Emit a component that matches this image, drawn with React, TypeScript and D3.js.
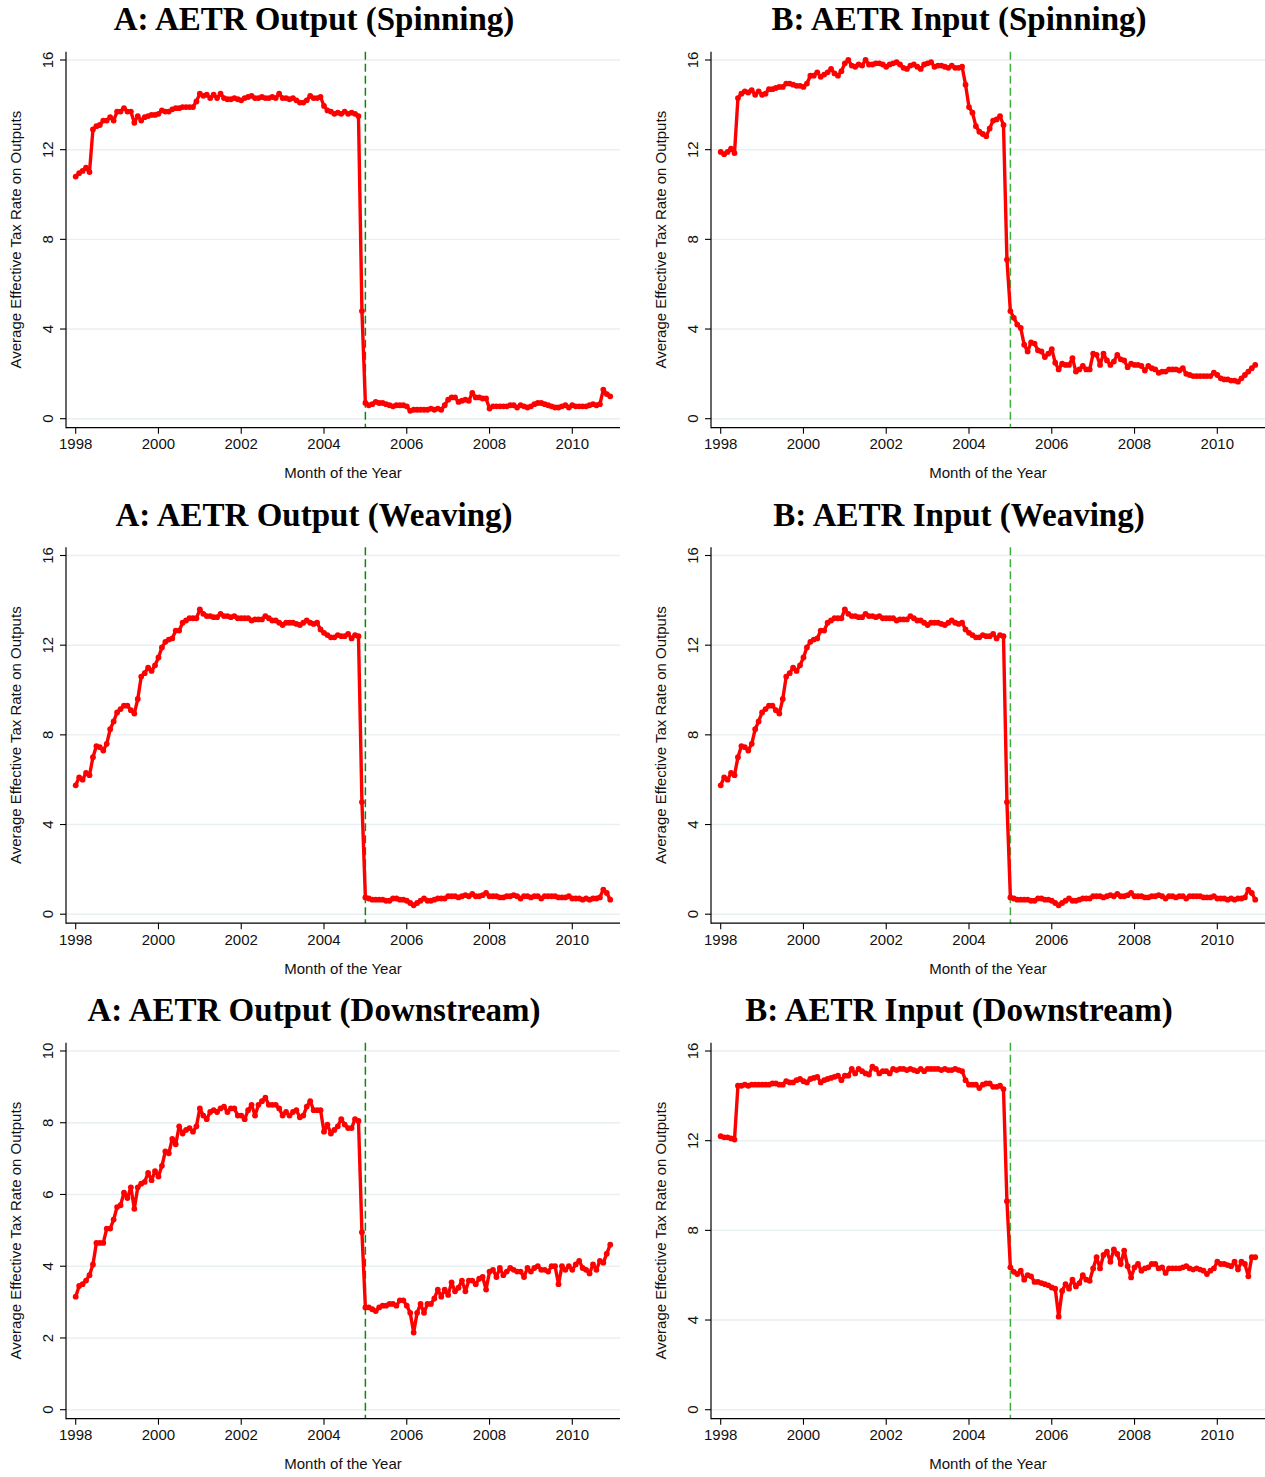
import React from 'react';
import * as d3 from 'd3';

// ---------- data (monthly, Jan 1998 – Dec 2010) ----------
const startYear = 1998;

const spinningOutput: number[] = [
  10.8, 10.95, 11.05, 11.2, 11.0, 12.9, 13.05, 13.1, 13.3, 13.3, 13.45, 13.3,
  13.7, 13.7, 13.85, 13.7, 13.7, 13.2, 13.5, 13.3, 13.45, 13.5, 13.55, 13.55,
  13.6, 13.75, 13.7, 13.7, 13.8, 13.85, 13.85, 13.9, 13.9, 13.9, 13.9, 14.15,
  14.5, 14.4, 14.45, 14.3, 14.45, 14.3, 14.5, 14.3, 14.25, 14.25, 14.3, 14.25,
  14.2, 14.3, 14.35, 14.4, 14.3, 14.3, 14.35, 14.3, 14.3, 14.35, 14.3, 14.5,
  14.3, 14.3, 14.25, 14.3, 14.2, 14.1, 14.1, 14.2, 14.4, 14.3, 14.3, 14.35,
  13.95, 13.75, 13.7, 13.6, 13.65, 13.6, 13.7, 13.6, 13.65, 13.6, 13.5, 4.8,
  0.7, 0.6, 0.65, 0.75, 0.7, 0.7, 0.65, 0.6, 0.55, 0.6, 0.6, 0.6,
  0.55, 0.35, 0.4, 0.4, 0.4, 0.4, 0.4, 0.45, 0.4, 0.45, 0.4, 0.6,
  0.85, 0.95, 0.95, 0.75, 0.8, 0.85, 0.8, 1.15, 0.95, 0.95, 0.9, 0.9,
  0.45, 0.55, 0.55, 0.55, 0.55, 0.55, 0.6, 0.6, 0.5, 0.6, 0.55, 0.5,
  0.55, 0.65, 0.7, 0.7, 0.65, 0.6, 0.55, 0.5, 0.5, 0.55, 0.6, 0.5,
  0.6, 0.55, 0.55, 0.55, 0.55, 0.6, 0.65, 0.6, 0.65, 1.3, 1.1, 1.0,
];

const spinningInput: number[] = [
  11.9, 11.8, 11.9, 12.05, 11.85, 14.3, 14.5, 14.6, 14.55, 14.65, 14.45, 14.6,
  14.45, 14.5, 14.7, 14.7, 14.75, 14.8, 14.8, 14.95, 14.95, 14.9, 14.85, 14.85,
  14.8, 14.95, 15.3, 15.3, 15.45, 15.25, 15.35, 15.45, 15.6, 15.4, 15.3, 15.5,
  15.85, 16.0, 15.75, 15.7, 15.8, 15.75, 16.0, 15.8, 15.8, 15.85, 15.85, 15.8,
  15.7, 15.8, 15.85, 15.9, 15.8, 15.65, 15.6, 15.75, 15.8, 15.7, 15.6, 15.8,
  15.85, 15.9, 15.7, 15.75, 15.75, 15.7, 15.65, 15.75, 15.65, 15.65, 15.7, 14.9,
  13.9, 13.65, 13.05, 12.8, 12.7, 12.6, 12.95, 13.3, 13.35, 13.5, 13.1, 7.1,
  4.8, 4.5, 4.2, 4.05, 3.3, 3.0, 3.4, 3.35, 3.05, 3.0, 2.75, 2.9,
  3.1, 2.5, 2.2, 2.45, 2.4, 2.4, 2.7, 2.1, 2.2, 2.35, 2.2, 2.2,
  2.9, 2.85, 2.4, 2.9, 2.6, 2.4, 2.55, 2.85, 2.65, 2.6, 2.3, 2.45,
  2.4, 2.4, 2.35, 2.15, 2.35, 2.25, 2.2, 2.05, 2.1, 2.1, 2.2, 2.2,
  2.2, 2.15, 2.25, 2.0, 1.95, 1.9, 1.9, 1.9, 1.9, 1.9, 1.9, 2.05,
  1.95, 1.8, 1.75, 1.75, 1.7, 1.7, 1.65, 1.8, 1.95, 2.1, 2.25, 2.4,
];

const weavingOutput: number[] = [
  5.75, 6.1, 6.0, 6.3, 6.2, 7.0, 7.5, 7.45, 7.3, 7.6, 8.25, 8.6,
  9.0, 9.15, 9.3, 9.3, 9.1, 8.95, 9.6, 10.6, 10.75, 11.0, 10.85, 11.1,
  11.45, 11.9, 12.15, 12.25, 12.3, 12.65, 12.65, 13.0, 13.1, 13.2, 13.2, 13.2,
  13.6, 13.4, 13.3, 13.3, 13.25, 13.25, 13.4, 13.3, 13.3, 13.25, 13.3, 13.2,
  13.2, 13.2, 13.2, 13.1, 13.15, 13.15, 13.15, 13.3, 13.2, 13.1, 13.1, 13.0,
  12.9, 13.0, 13.0, 13.0, 12.95, 12.9, 13.0, 13.1, 13.0, 12.95, 13.0, 12.7,
  12.55, 12.45, 12.35, 12.35, 12.45, 12.4, 12.4, 12.5, 12.3, 12.45, 12.4, 5.0,
  0.75, 0.7, 0.65, 0.65, 0.65, 0.65, 0.6, 0.6, 0.7, 0.7, 0.65, 0.65,
  0.6, 0.5, 0.4, 0.5, 0.6, 0.7, 0.6, 0.6, 0.65, 0.7, 0.7, 0.7,
  0.8, 0.8, 0.8, 0.75, 0.8, 0.85, 0.8, 0.9, 0.8, 0.8, 0.85, 0.95,
  0.8, 0.8, 0.8, 0.75, 0.75, 0.8, 0.8, 0.85, 0.8, 0.7, 0.8, 0.8,
  0.75, 0.8, 0.8, 0.7, 0.8, 0.8, 0.8, 0.8, 0.75, 0.75, 0.75, 0.8,
  0.7, 0.7, 0.7, 0.65, 0.7, 0.65, 0.7, 0.7, 0.75, 1.1, 0.95, 0.65,
];

const weavingInput: number[] = [
  5.75, 6.1, 6.0, 6.3, 6.2, 7.0, 7.5, 7.45, 7.3, 7.6, 8.25, 8.6,
  9.0, 9.15, 9.3, 9.3, 9.1, 8.95, 9.6, 10.6, 10.75, 11.0, 10.85, 11.1,
  11.45, 11.9, 12.15, 12.25, 12.3, 12.65, 12.65, 13.0, 13.1, 13.2, 13.2, 13.2,
  13.6, 13.4, 13.3, 13.3, 13.25, 13.25, 13.4, 13.3, 13.3, 13.25, 13.3, 13.2,
  13.2, 13.2, 13.2, 13.1, 13.15, 13.15, 13.15, 13.3, 13.2, 13.1, 13.1, 13.0,
  12.9, 13.0, 13.0, 13.0, 12.95, 12.9, 13.0, 13.1, 13.0, 12.95, 13.0, 12.7,
  12.55, 12.45, 12.35, 12.35, 12.45, 12.4, 12.4, 12.5, 12.3, 12.45, 12.4, 5.0,
  0.75, 0.7, 0.65, 0.65, 0.65, 0.65, 0.6, 0.6, 0.7, 0.7, 0.65, 0.65,
  0.6, 0.5, 0.4, 0.5, 0.6, 0.7, 0.6, 0.6, 0.65, 0.7, 0.7, 0.7,
  0.8, 0.8, 0.8, 0.75, 0.8, 0.85, 0.8, 0.9, 0.8, 0.8, 0.85, 0.95,
  0.8, 0.8, 0.8, 0.75, 0.75, 0.8, 0.8, 0.85, 0.8, 0.7, 0.8, 0.8,
  0.75, 0.8, 0.8, 0.7, 0.8, 0.8, 0.8, 0.8, 0.75, 0.75, 0.75, 0.8,
  0.7, 0.7, 0.7, 0.65, 0.7, 0.65, 0.7, 0.7, 0.75, 1.1, 0.95, 0.65,
];

const downstreamOutput: number[] = [
  3.15, 3.45, 3.5, 3.6, 3.75, 4.05, 4.65, 4.65, 4.65, 5.05, 5.05, 5.3,
  5.65, 5.7, 6.05, 5.9, 6.2, 5.6, 6.2, 6.3, 6.35, 6.6, 6.4, 6.65,
  6.5, 6.8, 7.2, 7.15, 7.55, 7.4, 7.9, 7.7, 7.8, 7.85, 7.75, 7.9,
  8.4, 8.2, 8.1, 8.3, 8.35, 8.3, 8.4, 8.45, 8.3, 8.4, 8.4, 8.2,
  8.2, 8.1, 8.35, 8.5, 8.2, 8.5, 8.6, 8.7, 8.5, 8.5, 8.5, 8.4,
  8.2, 8.3, 8.2, 8.3, 8.35, 8.15, 8.2, 8.45, 8.6, 8.35, 8.35, 8.35,
  7.75, 7.95, 7.7, 7.8, 7.9, 8.1, 7.95, 7.85, 7.85, 8.1, 8.05, 4.95,
  2.85, 2.85, 2.8, 2.75, 2.85, 2.9, 2.9, 2.95, 2.95, 2.9, 3.05, 3.05,
  2.9, 2.7, 2.15, 2.7, 2.95, 2.7, 2.95, 2.95, 3.1, 3.35, 3.15, 3.35,
  3.2, 3.55, 3.3, 3.4, 3.6, 3.3, 3.6, 3.6, 3.5, 3.65, 3.7, 3.35,
  3.85, 3.9, 3.7, 3.95, 3.75, 3.85, 3.95, 3.9, 3.85, 3.85, 3.7, 3.95,
  3.85, 3.95, 4.0, 3.9, 3.9, 3.85, 4.0, 4.0, 3.5, 4.0, 3.9, 4.0,
  3.9, 4.05, 4.15, 3.95, 3.9, 3.8, 4.05, 3.9, 4.15, 4.1, 4.35, 4.6,
];

const downstreamInput: number[] = [
  12.2, 12.15, 12.15, 12.1, 12.05, 14.45, 14.45, 14.5, 14.45, 14.5, 14.5, 14.5,
  14.5, 14.5, 14.5, 14.55, 14.55, 14.5, 14.5, 14.65, 14.6, 14.6, 14.7, 14.75,
  14.65, 14.6, 14.75, 14.8, 14.85, 14.6, 14.7, 14.75, 14.8, 14.85, 14.9, 14.7,
  14.9, 14.9, 15.2, 15.0, 15.2, 15.1, 15.0, 14.95, 15.3, 15.2, 15.0, 15.1,
  15.1, 15.0, 15.2, 15.15, 15.2, 15.2, 15.15, 15.2, 15.15, 15.1, 15.2, 15.1,
  15.2, 15.2, 15.2, 15.2, 15.15, 15.2, 15.15, 15.15, 15.2, 15.15, 15.1, 14.7,
  14.5, 14.5, 14.5, 14.35, 14.5, 14.55, 14.55, 14.4, 14.4, 14.45, 14.3, 9.3,
  6.35, 6.15, 6.05, 6.2, 5.8, 6.0, 5.95, 5.7, 5.7, 5.65, 5.6, 5.55,
  5.45, 5.4, 4.15, 5.3, 5.6, 5.4, 5.8, 5.5, 5.65, 6.0, 5.8, 5.75,
  6.3, 6.8, 6.3, 6.9, 7.05, 6.6, 7.15, 6.95, 6.5, 7.1, 6.4, 5.9,
  6.35, 6.5, 6.2, 6.3, 6.35, 6.5, 6.5, 6.3, 6.35, 6.1, 6.3, 6.3,
  6.3, 6.3, 6.35, 6.4, 6.3, 6.25, 6.3, 6.25, 6.2, 6.05, 6.2, 6.3,
  6.6, 6.5, 6.5, 6.45, 6.4, 6.6, 6.25, 6.6, 6.5, 5.95, 6.8, 6.8,
];

const xTickYears: number[] = [1998, 2000, 2002, 2004, 2006, 2008, 2010];
const yTicks16: number[] = [0, 4, 8, 12, 16];
const yTicks10: number[] = [0, 2, 4, 6, 8, 10];
const reformDate = 2005;

const titles: string[] = [
  'A: AETR Output (Spinning)',
  'B: AETR Input (Spinning)',
  'A: AETR Output (Weaving)',
  'B: AETR Input (Weaving)',
  'A: AETR Output (Downstream)',
  'B: AETR Input (Downstream)',
];
const yAxisTitle = 'Average Effective Tax Rate on Outputs';
const xAxisTitle = 'Month of the Year';

const panels = [
  { title: titles[0], data: spinningOutput, yMax: 16, ticks: yTicks16, col: 0, row: 0 },
  { title: titles[1], data: spinningInput, yMax: 16, ticks: yTicks16, col: 1, row: 0 },
  { title: titles[2], data: weavingOutput, yMax: 16, ticks: yTicks16, col: 0, row: 1 },
  { title: titles[3], data: weavingInput, yMax: 16, ticks: yTicks16, col: 1, row: 1 },
  { title: titles[4], data: downstreamOutput, yMax: 10, ticks: yTicks10, col: 0, row: 2 },
  { title: titles[5], data: downstreamInput, yMax: 16, ticks: yTicks16, col: 1, row: 2 },
];

// ---------- layout ----------
const W = 1265;
const H = 1477;
const COL_DX = 645;
const ROW_DY = 495.5;
const SANS = '"Liberation Sans", Arial, Helvetica, sans-serif';
const SERIF = '"Liberation Serif", "Times New Roman", serif';

function Panel({ p }: { p: (typeof panels)[number] }) {
  const ox = p.col * COL_DX;
  const oy = p.row * ROW_DY;
  const x = d3.scaleLinear().domain([1998, 2010]).range([ox + 75.7, ox + 572.3]);
  const y = d3.scaleLinear().domain([0, p.yMax]).range([oy + 418.7, oy + 60]);
  const axL = ox + 66;
  const axR = ox + 620;
  const axT = oy + 51.7;
  const axB = oy + 427.7;
  const line = d3
    .line<number>()
    .x((_, i) => x(startYear + i / 12))
    .y((d) => y(d));
  const dashColor = p.col === 0 ? '#0a8a0a' : '#3fae3f';
  return (
    <g>
      <text
        x={ox + 314}
        y={oy + 30}
        textAnchor="middle"
        fontFamily={SERIF}
        fontWeight="bold"
        fontSize={33}
        fill="#000"
      >
        {p.title}
      </text>
      {p.ticks.map((t) => (
        <line key={'g' + t} x1={axL} x2={axR} y1={y(t)} y2={y(t)} stroke="#e8f0f2" strokeWidth={1.4} />
      ))}
      <line x1={x(reformDate)} x2={x(reformDate)} y1={axT} y2={axB} stroke={dashColor} strokeWidth={1.5} strokeDasharray="8,4" />
      <path d={line(p.data) || ''} fill="none" stroke="#ff0000" strokeWidth={3.4} strokeLinejoin="round" />
      {p.data.map((d, i) => (
        <circle key={i} cx={x(startYear + i / 12)} cy={y(d)} r={2.9} fill="#ff0000" />
      ))}
      <line x1={axL} x2={axL} y1={axT} y2={axB + 0.5} stroke="#000" strokeWidth={1.2} />
      <line x1={axL} x2={axR} y1={axB} y2={axB} stroke="#000" strokeWidth={1.2} />
      {p.ticks.map((t) => (
        <g key={'yt' + t}>
          <line x1={axL - 6} x2={axL} y1={y(t)} y2={y(t)} stroke="#000" strokeWidth={1.1} />
          <text
            transform={`translate(${ox + 52.5},${y(t)}) rotate(-90)`}
            textAnchor="middle"
            fontFamily={SANS}
            fontSize={15}
            fill="#111"
          >
            {t}
          </text>
        </g>
      ))}
      {xTickYears.map((t) => (
        <g key={'xt' + t}>
          <line x1={x(t)} x2={x(t)} y1={axB} y2={axB + 6} stroke="#000" strokeWidth={1.1} />
          <text x={x(t)} y={oy + 449} textAnchor="middle" fontFamily={SANS} fontSize={15} fill="#111">
            {t}
          </text>
        </g>
      ))}
      <text
        transform={`translate(${ox + 21},${(axT + axB) / 2}) rotate(-90)`}
        textAnchor="middle"
        fontFamily={SANS}
        fontSize={15}
        fill="#111"
      >
        {yAxisTitle}
      </text>
      <text x={(axL + axR) / 2} y={oy + 478} textAnchor="middle" fontFamily={SANS} fontSize={15} fill="#111">
        {xAxisTitle}
      </text>
    </g>
  );
}

export default function App() {
  return (
    <svg
      width={W}
      height={H}
      viewBox={`0 0 ${W} ${H}`}
      style={{ position: 'absolute', left: 0, top: 0, background: '#fff' }}
    >
      <rect x={0} y={0} width={W} height={H} fill="#fff" />
      {panels.map((p, i) => (
        <Panel key={i} p={p} />
      ))}
    </svg>
  );
}
